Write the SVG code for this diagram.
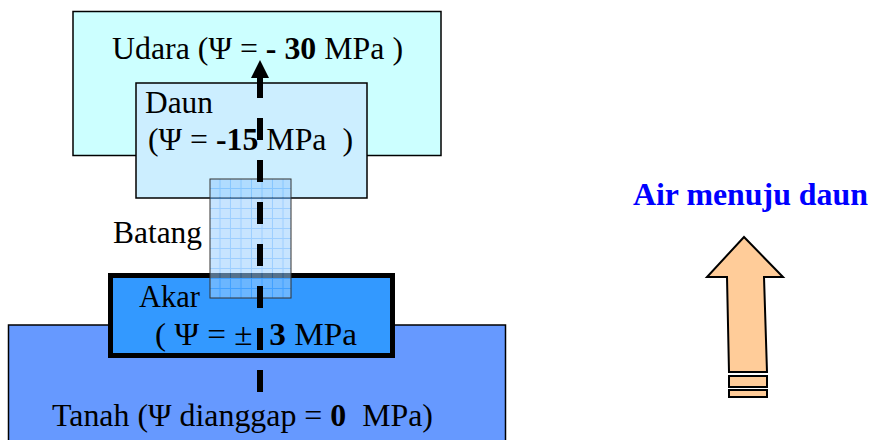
<svg xmlns="http://www.w3.org/2000/svg" width="875" height="440" viewBox="0 0 875 440">
<defs>
<style>
.t{font-family:"Liberation Serif","Times New Roman",serif;font-size:31px;fill:#000;white-space:pre}
.b{font-weight:bold}
.box{stroke:#000;stroke-width:1.5}
</style>
<pattern id="grid" x="210" y="179" width="10.5" height="10" patternUnits="userSpaceOnUse">
<rect width="10.5" height="10" fill="#99cdff"/>
<path d="M10 0V10M0 9.5H10.5" stroke="#4da6ff" stroke-width="1"/>
</pattern>
</defs>
<rect width="875" height="440" fill="#fff"/>
<g id="udara"><rect class="box" x="73" y="11.5" width="368" height="144" fill="#ccffff"/></g>
<g id="daun"><rect class="box" x="136" y="83" width="231" height="115" fill="#cceeff"/></g>
<g id="tanah"><rect class="box" x="8.5" y="325" width="497" height="125" fill="#6699ff"/></g>
<g id="akar"><rect x="110.5" y="275.5" width="282" height="80" fill="#3399ff" stroke="#000" stroke-width="5"/></g>
<g id="batang"><rect x="210" y="179" width="81" height="119" fill="url(#grid)" fill-opacity="0.55" stroke="#333" stroke-width="1"/></g>
<g id="labels">
<text class="t" x="112" y="59" textLength="291" lengthAdjust="spacingAndGlyphs">Udara (Ψ = <tspan class="b">- 30</tspan> MPa )</text>
<text class="t" x="145" y="113" textLength="68" lengthAdjust="spacingAndGlyphs">Daun</text>
<text class="t" x="148" y="150" textLength="205" lengthAdjust="spacingAndGlyphs">(Ψ = <tspan class="b">-15</tspan> MPa&#160; )</text>
<text class="t" x="155" y="345" textLength="202" lengthAdjust="spacingAndGlyphs">( Ψ = ±&#160; <tspan class="b">3</tspan> MPa</text>
<text class="t" x="113" y="243" textLength="89" lengthAdjust="spacingAndGlyphs">Batang</text>
<text class="t" x="139" y="307" textLength="61" lengthAdjust="spacingAndGlyphs">Akar</text>
<text class="t" x="52" y="426" textLength="381" lengthAdjust="spacingAndGlyphs">Tanah (Ψ dianggap = <tspan class="b">0</tspan>&#160; MPa)</text>
<text class="t b" x="633" y="205" style="fill:#0000ff" textLength="235" lengthAdjust="spacingAndGlyphs">Air menuju daun</text>
</g>
<g id="connectors">
<line x1="260" y1="392" x2="260" y2="77" stroke="#000" stroke-width="6" stroke-dasharray="22 20"/>
<polygon points="260,60 251,78 269,78" fill="#000"/>
</g>
<g id="big-arrow" fill="#ffcc99" stroke="#000" stroke-width="2" stroke-linejoin="miter">
<polygon points="744,237 783,277 764,277 767,372 729,372 727,277 707,277"/>
<rect x="729" y="376" width="38" height="11"/>
<rect x="729" y="390" width="38" height="7"/>
</g>
</svg>
